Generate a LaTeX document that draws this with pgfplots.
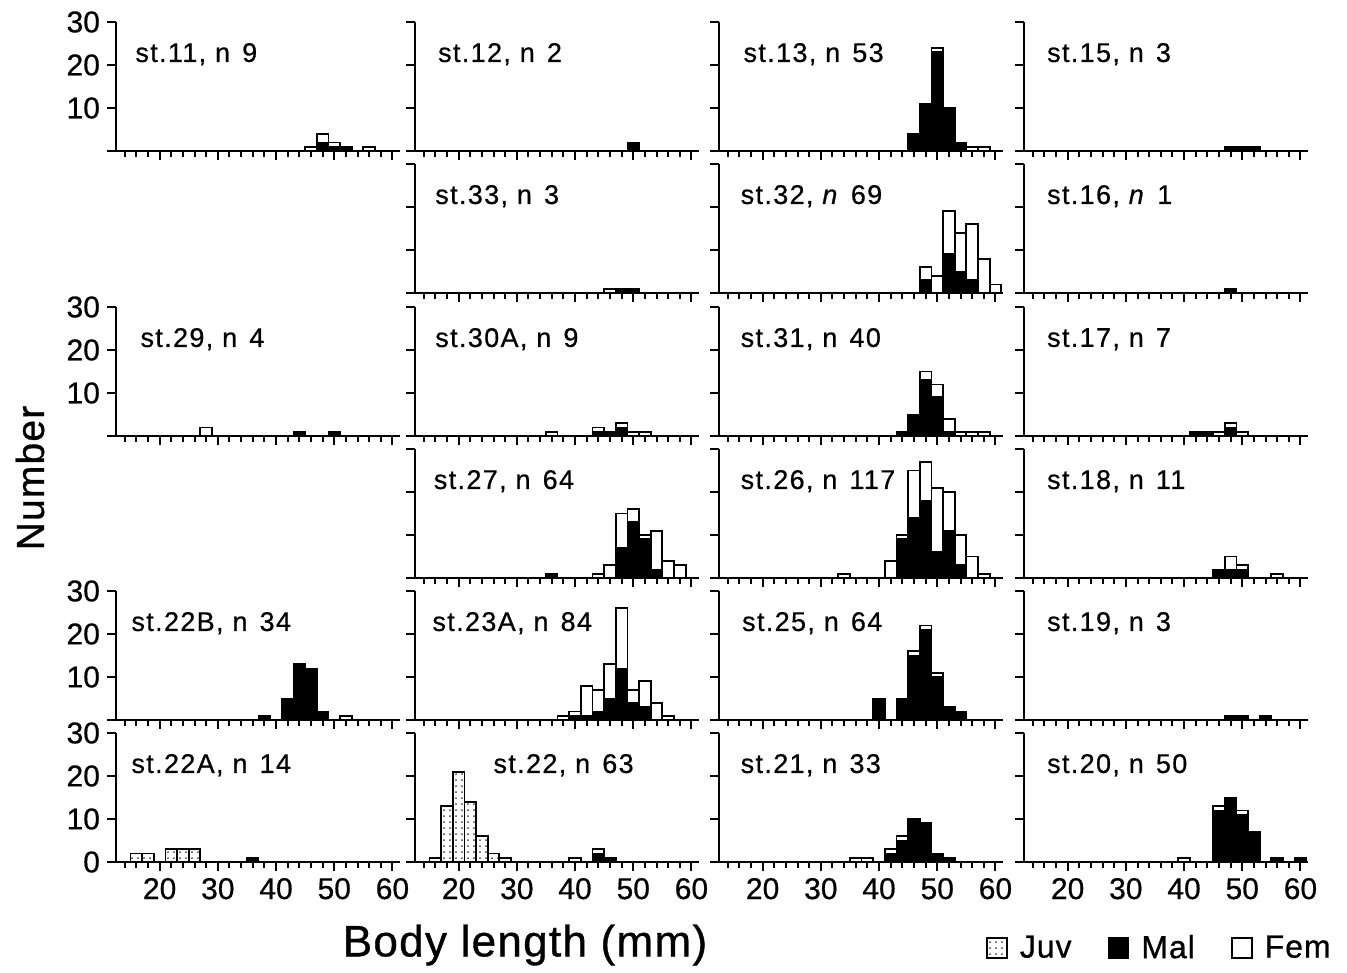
\documentclass[border=0pt]{standalone}
\usepackage{fontspec}
\setmainfont{Liberation Sans}
\newfontfamily\lblfont[LetterSpace=5,FakeBold=0.6]{Liberation Sans}
\newfontfamily\bigfont[LetterSpace=3,FakeBold=0.8]{Liberation Sans}
\newfontfamily\tickfont[FakeBold=0.6]{Liberation Sans}
\usepackage{pgfplots}
\pgfplotsset{compat=1.18}
\usepackage{pgfplotstable}
\usetikzlibrary{patterns}

% body length classes (2 mm bins, centres) and counts: J = juveniles, M = males, F = females
\pgfplotstableread{
x J M F
46 0 0 1
48 0 2 2
50 0 1 1
52 0 1 0
56 0 0 1
}\stEleven
\pgfplotstableread{
x J M F
50 0 2 0
}\stTwelve
\pgfplotstableread{
x J M F
46 0 4 0
48 0 11 0
50 0 23 1
52 0 10 0
54 0 2 0
56 0 0 1
58 0 0 1
}\stThirteen
\pgfplotstableread{
x J M F
48 0 1 0
50 0 1 0
52 0 1 0
}\stFifteen
\pgfplotstableread{
x J M F
46 0 0 1
48 0 1 0
50 0 1 0
}\stThirtyThree
\pgfplotstableread{
x J M F
48 0 3 3
50 0 0 4
52 0 9 10
54 0 5 9
56 0 3 13
58 0 0 8
60 0 0 2
}\stThirtyTwo
\pgfplotstableread{
x J M F
48 0 1 0
}\stSixteen
\pgfplotstableread{
x J M F
28 0 0 2
44 0 1 0
50 0 1 0
}\stTwentyNine
\pgfplotstableread{
x J M F
36 0 0 1
44 0 1 1
46 0 1 0
48 0 2 1
50 0 0 1
52 0 0 1
}\stThirtyA
\pgfplotstableread{
x J M F
44 0 1 0
46 0 5 0
48 0 13 2
50 0 9 3
52 0 1 3
54 0 0 1
56 0 0 1
58 0 0 1
}\stThirtyOne
\pgfplotstableread{
x J M F
42 0 1 0
44 0 1 0
46 0 0 1
48 0 2 1
50 0 0 1
}\stSeventeen
\pgfplotstableread{
x J M F
36 0 1 0
44 0 0 1
46 0 0 3
48 0 7 8
50 0 13 3
52 0 9 1
54 0 2 9
56 0 0 4
58 0 0 3
}\stTwentySeven
\pgfplotstableread{
x J M F
34 0 0 1
42 0 0 4
44 0 9 1
46 0 14 11
48 0 18 9
50 0 6 15
52 0 11 9
54 0 3 7
56 0 0 5
58 0 0 1
}\stTwentySix
\pgfplotstableread{
x J M F
46 0 2 0
48 0 2 3
50 0 2 1
56 0 0 1
}\stEighteen
\pgfplotstableread{
x J M F
38 0 1 0
42 0 5 0
44 0 13 0
46 0 12 0
48 0 2 0
52 0 0 1
}\stTwentyTwoB
\pgfplotstableread{
x J M F
38 0 0 1
40 0 1 1
42 0 1 7
44 0 2 5
46 0 5 8
48 0 12 14
50 0 4 3
52 0 3 6
54 0 0 4
56 0 0 1
}\stTwentyThreeA
\pgfplotstableread{
x J M F
40 0 5 0
44 0 5 0
46 0 15 1
48 0 21 1
50 0 10 1
52 0 3 0
54 0 2 0
}\stTwentyFive
\pgfplotstableread{
x J M F
48 0 1 0
50 0 1 0
54 0 1 0
}\stNineteen
\pgfplotstableread{
x J M F
16 2 0 0
18 2 0 0
22 3 0 0
24 3 0 0
26 3 0 0
36 0 1 0
}\stTwentyTwoA
\pgfplotstableread{
x J M F
16 1 0 0
18 13 0 0
20 21 0 0
22 14 0 0
24 6 0 0
26 2 0 0
28 1 0 0
40 0 0 1
44 0 2 1
46 0 1 0
}\stTwentyTwo
\pgfplotstableread{
x J M F
36 0 0 1
38 0 0 1
42 0 2 1
44 0 5 1
46 0 10 0
48 0 9 0
50 0 2 0
52 0 1 0
}\stTwentyOne
\pgfplotstableread{
x J M F
40 0 0 1
46 0 12 1
48 0 15 0
50 0 11 1
52 0 7 0
56 0 1 0
60 0 1 0
}\stTwenty

\newcommand{\nn}{\hspace{0.45em}}
\tikzset{panellabel/.style={anchor=west, inner sep=0pt,
  font=\lblfont\fontsize{13.5}{16}\selectfont}}

\pgfplotsset{
  panel/.style={
    scale only axis, width=142pt, height=64.5pt,
    anchor=south west,
    xmin=12.5, xmax=61.3, ymin=0, ymax=30,
    axis x line*=bottom, axis y line*=left,
    axis line style={line width=1.3pt},
    ybar stacked, bar width=2,
    xtick={20,30,...,60}, minor xtick={14,16,...,58},
    ytick={0,10,20,30},
    xticklabels={}, yticklabels={},
    tick align=outside,
    major tick length=4.5pt, minor tick length=2.8pt,
    tick style={black, line width=1pt},
    tick label style={font=\tickfont\fontsize{15}{18}\selectfont},
  },
  juv/.style={draw=black, line width=0.9pt, pattern=dots, pattern color=black!75,
    legend image code/.code={\draw[##1] (0pt,-5pt) rectangle (10pt,5pt);}},
  mal/.style={draw=black, fill=black, line width=0.9pt,
    legend image code/.code={\draw[##1] (0pt,-5pt) rectangle (10pt,5pt);}},
  fem/.style={draw=black, fill=white, line width=0.9pt,
    legend image code/.code={\draw[##1] (0pt,-5pt) rectangle (10pt,5pt);}},
}

% #1,#2 position of the axis origin in pixels, #3 table, #4 label x, #5 label, #6 extra options
\newcommand{\panel}[6]{%
  \begin{axis}[panel, at={(#1*0.5pt,-#2*0.5pt)}, #6]
    \addplot[juv] table[x=x,y=J]{#3};
    \addplot[mal] table[x=x,y=M]{#3};
    \addplot[fem] table[x=x,y=F]{#3};
    \node[panellabel] at (rel axis cs:#4,0.75) {#5};
  \end{axis}}

\begin{document}
\begin{tikzpicture}
\path (0,0) rectangle (673.5pt,-484.5pt);

% row 1
\panel{116}{151}{\stEleven}{0.067}{st.11, n\nn 9}{yticklabels={{},10,20,30}}
\panel{415}{151}{\stTwelve}{0.08}{st.12, n\nn 2}{}
\panel{719}{151}{\stThirteen}{0.085}{st.13, n\nn 53}{}
\panel{1024}{151}{\stFifteen}{0.08}{st.15, n\nn 3}{}
% row 2
\panel{415}{293}{\stThirtyThree}{0.07}{st.33, n\nn 3}{}
\panel{719}{293}{\stThirtyTwo}{0.075}{st.32, \textit{n}\nn 69}{}
\panel{1024}{293}{\stSixteen}{0.08}{st.16, \textit{n}\nn 1}{}
% row 3
\panel{116}{436}{\stTwentyNine}{0.085}{st.29, n\nn 4}{yticklabels={{},10,20,30}}
\panel{415}{436}{\stThirtyA}{0.07}{st.30A, n\nn 9}{}
\panel{719}{436}{\stThirtyOne}{0.075}{st.31, n\nn 40}{}
\panel{1024}{436}{\stSeventeen}{0.08}{st.17, n\nn 7}{}
% row 4
\panel{415}{578}{\stTwentySeven}{0.065}{st.27, n\nn 64}{}
\panel{719}{578}{\stTwentySix}{0.075}{st.26, n\nn 117}{}
\panel{1024}{578}{\stEighteen}{0.08}{st.18, n\nn 11}{}
% row 5
\panel{116}{720}{\stTwentyTwoB}{0.053}{st.22B, n\nn 34}{yticklabels={{},10,20,30}}
\panel{415}{720}{\stTwentyThreeA}{0.06}{st.23A, n\nn 84}{}
\panel{719}{720}{\stTwentyFive}{0.08}{st.25, n\nn 64}{}
\panel{1024}{720}{\stNineteen}{0.08}{st.19, n\nn 3}{}
% row 6
\panel{116}{862}{\stTwentyTwoA}{0.053}{st.22A, n\nn 14}{yticklabels={0,10,20,30}, xticklabels={20,30,40,50,60}}
\panel{415}{862}{\stTwentyTwo}{0.275}{st.22, n\nn 63}{xticklabels={20,30,40,50,60}}
\panel{719}{862}{\stTwentyOne}{0.075}{st.21, n\nn 33}{xticklabels={20,30,40,50,60}}
\panel{1024}{862}{\stTwenty}{0.08}{st.20, n\nn 50}{xticklabels={20,30,40,50,60},
  legend entries={Juv,Mal,Fem},
  legend style={at={(1.095,-0.667)}, anchor=east, draw=none, fill=none,
    legend columns=-1, inner sep=0pt, font=\bigfont\fontsize{16}{19}\selectfont,
    /tikz/every odd column/.append style={column sep=4pt},
    /tikz/every even column/.append style={column sep=16pt}}}

\node[rotate=90, font=\bigfont\fontsize{19.5}{23}\selectfont] at (15pt,-239pt) {Number};
\node[font=\bigfont\fontsize{22}{26}\selectfont] at (262.5pt,-472.5pt) {Body length (mm)};
\end{tikzpicture}
\end{document}
